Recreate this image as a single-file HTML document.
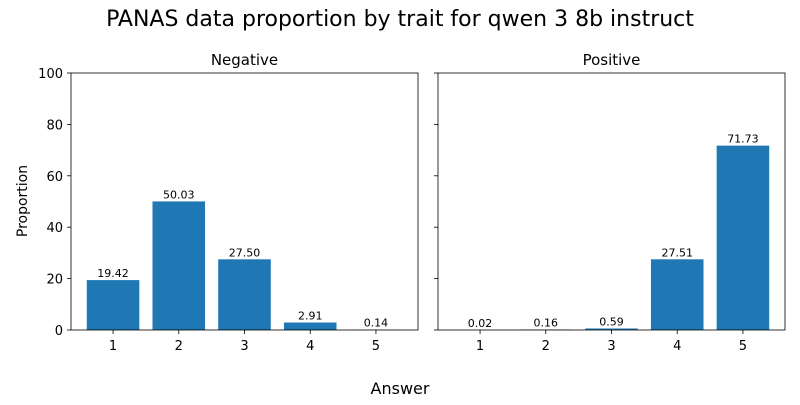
<!DOCTYPE html>
<html><head><meta charset="utf-8"><style>
body{margin:0;background:#fff;}
svg text{font-family:"DejaVu Sans","Liberation Sans",sans-serif;}
</style></head><body>
<svg id="chart" width="800" height="400" xmlns="http://www.w3.org/2000/svg">
<text x="400" y="26" font-size="22" text-anchor="middle">PANAS data proportion by trait for qwen 3 8b instruct</text>
<text x="400" y="394" font-size="16" text-anchor="middle">Answer</text>
<text x="27" y="201" font-size="14" text-anchor="middle" transform="rotate(-90 27 201)">Proportion</text>
</svg>
<script>
const categories = [1, 2, 3, 4, 5];
const negativeValues = [19.42, 50.03, 27.50, 2.91, 0.14];
const positiveValues = [0.02, 0.16, 0.59, 27.51, 71.73];
const yTicks = [0, 20, 40, 60, 80, 100];
const panelTitles = ["Negative", "Positive"];

const NS = "http://www.w3.org/2000/svg";
const svgEl = document.getElementById('chart');
const plotTop = 73, plotBottom = 330, W = 347;
const xMin = 0.36, xMax = 5.64;
function yScale(v){ return plotBottom - (v/100)*(plotBottom-plotTop); }
function mk(tag, attrs, parent){ const e=document.createElementNS(NS,tag); for(const k in attrs) e.setAttribute(k, attrs[k]); (parent||svgEl).appendChild(e); return e; }

[[71, negativeValues], [438, positiveValues]].forEach(([left, vals], p) => {
  const xScale = c => left + (c - xMin) / (xMax - xMin) * W;
  const g = mk('g', {});
  
  
  const t = mk('text', {x: left + W/2, y: 65, 'font-size': 15, 'text-anchor': 'middle'}, g);
  t.textContent = panelTitles[p];
  
  
  categories.forEach((c, i) => {
    const x0 = xScale(c - 0.4), x1 = xScale(c + 0.4);
    const r = mk('rect', {x: x0, y: yScale(vals[i]), width: x1 - x0, height: plotBottom - yScale(vals[i]), fill: '#1f77b4'}, g);
    
    
    const l = mk('text', {x: xScale(c), y: yScale(vals[i]) - 3, 'font-size': 11, 'text-anchor': 'middle'}, g);
    l.textContent = vals[i].toFixed(2);
    
    
    mk('line', {x1: xScale(c), x2: xScale(c), y1: plotBottom, y2: plotBottom + 4, stroke: '#000', 'stroke-width': 0.8}, g);
    const tl = mk('text', {x: xScale(c), y: plotBottom + 20, 'font-size': 13, 'text-anchor': 'middle'}, g);
    tl.textContent = c;
    
    
  });
  yTicks.forEach(v => {
    mk('line', {x1: left - 4, x2: left, y1: yScale(v), y2: yScale(v), stroke: '#000', 'stroke-width': 0.8}, g);
    if (p === 0) {
      const yl = mk('text', {x: left - 8, y: yScale(v) + 5, 'font-size': 13, 'text-anchor': 'end'}, g);
      yl.textContent = v;
      
      
    }
  });
  const fr = mk('rect', {x: left, y: plotTop, width: W, height: plotBottom - plotTop, fill: 'none', stroke: '#000', 'stroke-width': 0.8}, g);
  
  
});
</script>
</body></html>
